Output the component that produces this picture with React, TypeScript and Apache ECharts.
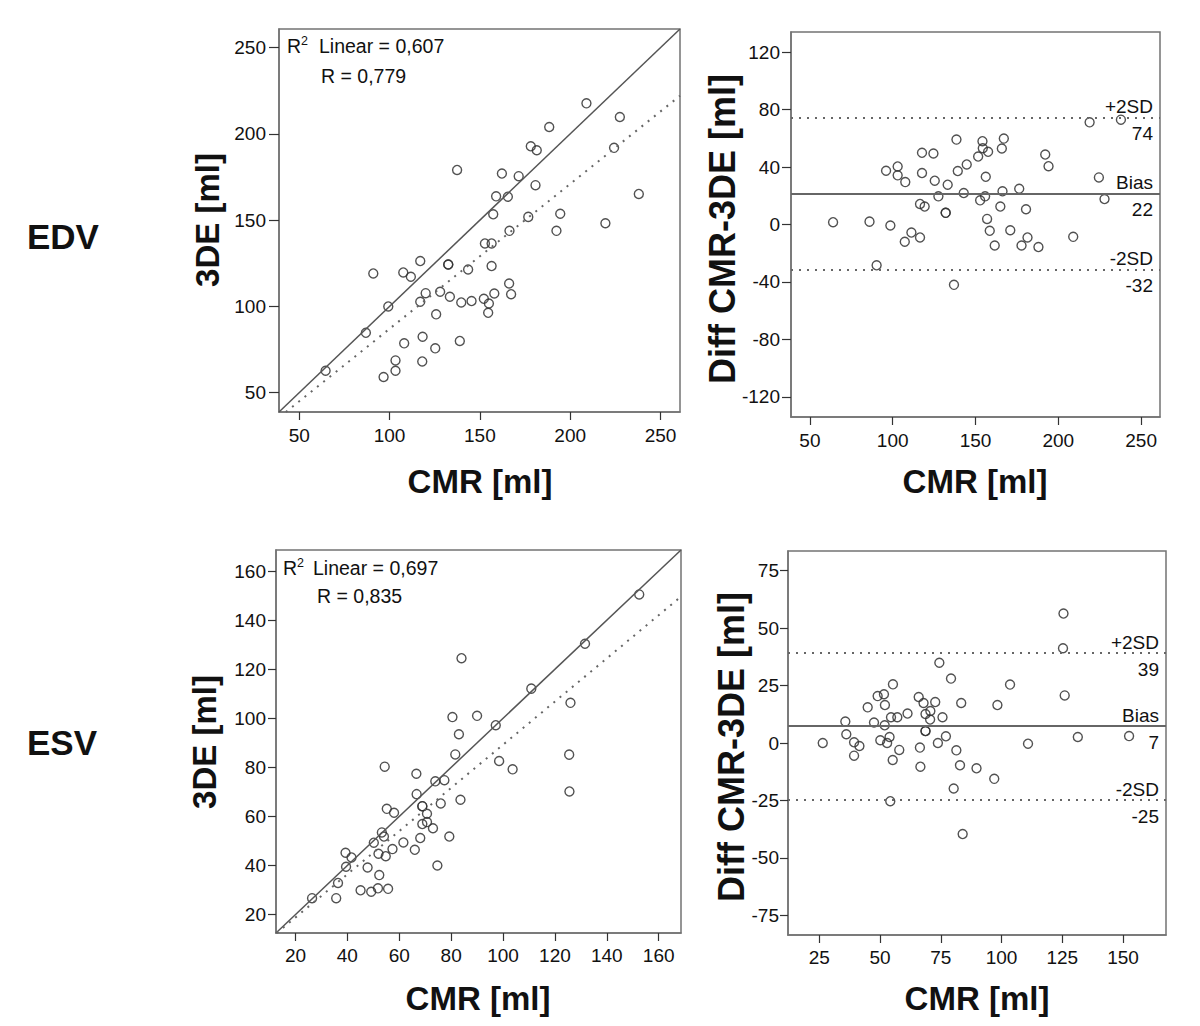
import React, { useEffect, useRef } from "react";
import * as echarts from "echarts";

const FONT = '"Liberation Sans", Arial, sans-serif';

// ---------- EDV: scatter CMR vs 3DE ----------
const edvCmr = [64.6, 86.9, 99.3, 91, 107.6, 111.8, 117, 117, 120, 128, 132.5, 132.5, 133.4, 125.8, 139.7, 143.5, 145.4, 152.2, 155, 154.6, 156.5, 158, 152.8, 156.5, 157.4, 166.4, 166.2, 167.3, 176.8, 192.4, 194.5, 219.5, 138.9, 125.3, 118.3, 108.1, 103.3, 103.3, 96.7, 118.1, 137.4, 209, 227.5, 224.3, 188.4, 178.2, 181.5, 162.2, 171.5, 180.8, 159, 165.5, 238];
const edv3de = [62.7, 84.7, 100, 119.1, 119.7, 117.2, 126.3, 102.7, 107.7, 108.5, 124.3, 124.3, 105.6, 95.4, 102.3, 121.4, 103.1, 104.4, 101.7, 96.3, 123.4, 107.5, 136.5, 136.5, 153.4, 143.8, 113.3, 107.1, 151.9, 143.8, 153.7, 148.2, 80, 75.7, 82.4, 78.6, 68.7, 62.7, 59.1, 68.1, 179.1, 217.7, 209.8, 191.9, 204, 192.8, 190.5, 177, 175.5, 170.3, 163.8, 163.6, 165.2];
const edvFitLine = [[42.6, 38.8], [260.8, 222.1]];

// ---------- EDV: Bland-Altman ----------
const edvBaCmr = [64, 86, 98.6, 96, 103, 103, 107.6, 117.7, 117.7, 124.6, 125.4, 116.5, 119.3, 127.6, 132, 132, 133.2, 138.5, 139.3, 144.7, 142.9, 151.6, 154.2, 154.4, 157.6, 167.1, 165.9, 156.2, 152.8, 155.8, 166.3, 165, 176.4, 180.5, 192.1, 194.1, 218.9, 237.8, 224.5, 227.9, 90.3, 107.3, 111.3, 116.5, 137, 157, 158.6, 161.6, 171, 177.8, 181.4, 188, 209];
const edvBaDiff = [1.6, 2, -0.7, 37.4, 40.4, 34.2, 29.5, 49.9, 35.8, 49.4, 30.5, 14.3, 12.5, 19.6, 8.1, 8.1, 27.7, 59.1, 37.2, 41.8, 21.9, 47.3, 58, 53.1, 50.6, 59.8, 52.9, 33.2, 16.8, 19.6, 23.1, 12.5, 24.9, 10.6, 48.7, 40.6, 71.1, 73, 32.8, 17.7, -28.4, -12, -5.6, -9, -42, 3.9, -4.4, -14.6, -4, -14.6, -9, -15.7, -8.6];
const edvLimitValues = [74.6, 21.7, -31.2];
const edvLimitNames = ["+2SD", "Bias", "-2SD"];
const edvLimitLabels = ["74", "22", "-32"];

// ---------- ESV: scatter CMR vs 3DE ----------
const esvCmr = [26.4, 35.7, 36.4, 39.3, 39.5, 41.6, 45.1, 47.8, 49.2, 50.2, 51.8, 52.3, 52, 53.3, 54.1, 54.8, 54.4, 55.2, 55.7, 57.4, 58, 61.6, 66, 66.6, 66.7, 68.1, 68.9, 68.9, 68.9, 70.7, 70.7, 73, 73.9, 74.7, 76, 77.4, 79.3, 81.6, 83, 83.6, 80.5, 84, 90, 97.2, 98.5, 103.7, 110.9, 125.5, 125.6, 126, 131.6, 152.5];
const esv3de = [26.7, 26.7, 32.9, 45.2, 39.5, 43.3, 29.9, 39.2, 29.3, 49.3, 30.7, 36.1, 44.8, 53.5, 51.8, 43.8, 80.3, 63.1, 30.5, 46.7, 61.5, 49.4, 46.4, 77.4, 69.1, 51.2, 64.2, 64.2, 56.9, 61.1, 57.7, 55.2, 74.3, 40, 65.3, 74.8, 51.8, 85.3, 93.5, 66.8, 100.5, 124.5, 101, 97.2, 82.6, 79.2, 112.1, 85.2, 70.2, 106.3, 130.4, 150.5];
const esvFitLine = [[12.8, 12.5], [168.6, 149.6]];

// ---------- ESV: Bland-Altman ----------
const esvBaCmr = [125.5, 125.3, 126, 74.4, 79.2, 103.5, 98.3, 83.4, 55.3, 44.9, 49, 51.6, 52, 35.7, 47.5, 51.9, 54.5, 57.1, 61.3, 65.9, 67.9, 72.7, 68.7, 70.7, 70.6, 75.7, 68.7, 68.7, 36.1, 26.4, 39.3, 41.5, 39.3, 50.1, 52.9, 53.9, 55.2, 54.2, 57.9, 66.4, 66.6, 73.8, 77.1, 81.4, 82.9, 80.3, 84, 89.7, 97, 110.9, 131.4, 152.5];
const esvBaDiff = [56.3, 41.2, 20.7, 34.9, 28, 25.4, 16.5, 17.4, 25.5, 15.5, 20.4, 21.2, 16.5, 9.3, 8.9, 7.7, 11.2, 11.2, 12.8, 20, 17.4, 17.8, 12.6, 13.9, 10.2, 11.2, 5.2, 5.2, 3.8, 0, 0.3, -1.3, -5.5, 1.2, 0, 2.6, -7.4, -25.3, -3, -2, -10.3, 0, 2.9, -3.2, -9.7, -19.8, -39.6, -11, -15.6, -0.3, 2.6, 3];
const esvLimitValues = [39.3, 7.4, -24.6];
const esvLimitNames = ["+2SD", "Bias", "-2SD"];
const esvLimitLabels = ["39", "7", "-25"];

// ---------- axes ----------
const edvTicks = [50, 100, 150, 200, 250];
const edvBaYTicks = [-120, -80, -40, 0, 40, 80, 120];
const esvTicks = [20, 40, 60, 80, 100, 120, 140, 160];
const esvBaXTicks = [25, 50, 75, 100, 125, 150];
const esvBaYTicks = [-75, -50, -25, 0, 25, 50, 75];

const edvRange = [38.8, 260.8];
const edvBaXRange = [38.6, 261.4];
const edvBaYRange = [-134, 134];
const esvRange = [12.5, 168.6];
const esvBaXRange = [12.1, 167.7];
const esvBaYRange = [-83.5, 83.5];

const zip = (a: number[], b: number[]) => a.map((v, i) => [v, b[i]]);

const BORDER = "#737373";

function axis(gridIndex: number, range: number[], ticks: number[], tickLen: number, margin: number) {
  return {
    type: "value",
    gridIndex,
    min: range[0],
    max: range[1],
    splitLine: { show: false },
    axisLine: { show: true, onZero: false, lineStyle: { color: BORDER, width: 1.5 } },
    axisTick: { show: true, length: tickLen, customValues: ticks, lineStyle: { color: "#333", width: 1.2 } },
    axisLabel: { customValues: ticks, margin, fontSize: 19, color: "#111", fontFamily: FONT },
  };
}

const pointStyle = {
  color: "rgba(255,255,255,0)",
  borderColor: "#333",
  borderWidth: 1.4,
  opacity: 0.85,
};

function scatter(idx: number, data: number[][], markLine?: any) {
  return {
    type: "scatter",
    xAxisIndex: idx,
    yAxisIndex: idx,
    data,
    symbol: "circle",
    symbolSize: 9,
    itemStyle: pointStyle,
    silent: true,
    markLine,
  };
}

function lineSeries(idx: number, data: number[][], type: any, color: string, width: number) {
  return {
    type: "line",
    xAxisIndex: idx,
    yAxisIndex: idx,
    data,
    showSymbol: false,
    symbol: "none",
    silent: true,
    lineStyle: { type, color, width },
  };
}

function limitLines(values: number[], names: string[], labels: string[]) {
  const labelBase = { fontSize: 19, color: "#111", fontFamily: FONT, opacity: 1 };
  const data: any[] = [];
  values.forEach((v, i) => {
    const solid = i === 1;
    data.push({
      yAxis: v,
      lineStyle: { type: solid ? "solid" : [2, 6], color: "#666", width: 2 },
      label: { ...labelBase, show: true, formatter: names[i], position: "insideEndTop", distance: [7, 1] },
    });
    data.push({
      yAxis: v,
      lineStyle: { type: "solid", color: "rgba(0,0,0,0)", width: 1, opacity: 1 },
      label: { ...labelBase, show: true, formatter: labels[i], position: "insideEndBottom", distance: [7, 7] },
    });
  });
  return { symbol: "none", silent: true, animation: false, data };
}

function txt(text: string, x: number, y: number, size: number, opts: any = {}) {
  return {
    type: "text",
    x,
    y,
    rotation: opts.rotation || 0,
    silent: true,
    style: {
      text,
      fontSize: size,
      fontWeight: opts.bold ? "bold" : "normal",
      fontFamily: FONT,
      fill: "#111",
      textAlign: opts.align || "left",
      textVerticalAlign: "middle",
      align: opts.align || "left",
      verticalAlign: "middle",
    },
  };
}

export default function App() {
  const ref = useRef<HTMLDivElement>(null);
  useEffect(() => {
    if (!ref.current) return;
    const chart = echarts.init(ref.current, undefined, { renderer: "svg" });
    const option: any = {
      animation: false,
      backgroundColor: "#ffffff",
      grid: [
        { left: 279, top: 29, width: 401, height: 383 },
        { left: 791, top: 32, width: 369, height: 385 },
        { left: 276, top: 550, width: 405, height: 383 },
        { left: 788, top: 551, width: 378, height: 384 },
      ].map((g) => ({ ...g, show: true, borderColor: BORDER, borderWidth: 1.5, containLabel: false })),
      xAxis: [
        axis(0, edvRange, edvTicks, 8, 14),
        axis(1, edvBaXRange, edvTicks, 8, 14),
        axis(2, esvRange, esvTicks, 8, 13),
        axis(3, esvBaXRange, esvBaXTicks, 8, 13),
      ],
      yAxis: [
        axis(0, edvRange, edvTicks, 10, 13),
        axis(1, edvBaYRange, edvBaYTicks, 9, 11),
        axis(2, esvRange, esvTicks, 8, 10),
        axis(3, esvBaYRange, esvBaYTicks, 8, 9),
      ],
      series: [
        lineSeries(0, [[edvRange[0], edvRange[0]], [edvRange[1], edvRange[1]]], "solid", "#555", 1.5),
        lineSeries(0, edvFitLine, [2, 6], "#666", 2),
        scatter(0, zip(edvCmr, edv3de)),
        scatter(1, zip(edvBaCmr, edvBaDiff), limitLines(edvLimitValues, edvLimitNames, edvLimitLabels)),
        lineSeries(2, [[esvRange[0], esvRange[0]], [esvRange[1], esvRange[1]]], "solid", "#555", 1.5),
        lineSeries(2, esvFitLine, [2, 6], "#666", 2),
        scatter(2, zip(esvCmr, esv3de)),
        scatter(3, zip(esvBaCmr, esvBaDiff), limitLines(esvLimitValues, esvLimitNames, esvLimitLabels)),
      ],
      graphic: [
        txt("EDV", 27, 236, 35, { bold: true }),
        txt("ESV", 27, 742, 35, { bold: true }),
        txt("3DE [ml]", 207, 220, 33, { bold: true, align: "center", rotation: Math.PI / 2 }),
        txt("3DE [ml]", 204, 742, 33, { bold: true, align: "center", rotation: Math.PI / 2 }),
        txt("Diff CMR-3DE [ml]", 722, 229, 36, { bold: true, align: "center", rotation: Math.PI / 2 }),
        txt("Diff CMR-3DE [ml]", 731, 747, 36, { bold: true, align: "center", rotation: Math.PI / 2 }),
        txt("CMR [ml]", 480, 481, 33, { bold: true, align: "center" }),
        txt("CMR [ml]", 975, 481, 33, { bold: true, align: "center" }),
        txt("CMR [ml]", 478, 998, 33, { bold: true, align: "center" }),
        txt("CMR [ml]", 977, 998, 33, { bold: true, align: "center" }),
        txt("R", 287, 46, 19.5),
        txt("2", 301, 41, 12.5),
        txt("Linear = 0,607", 319, 46, 19.5),
        txt("R = 0,779", 321, 76, 19.5),
        txt("R", 283, 568, 19.5),
        txt("2", 297, 563, 12.5),
        txt("Linear = 0,697", 313, 568, 19.5),
        txt("R = 0,835", 317, 596, 19.5),
      ],
    };
    chart.setOption(option);
    return () => chart.dispose();
  }, []);
  return (
    <div
      ref={ref}
      style={{ position: "absolute", left: 0, top: 0, width: 1200, height: 1026, background: "#fff" }}
    />
  );
}
